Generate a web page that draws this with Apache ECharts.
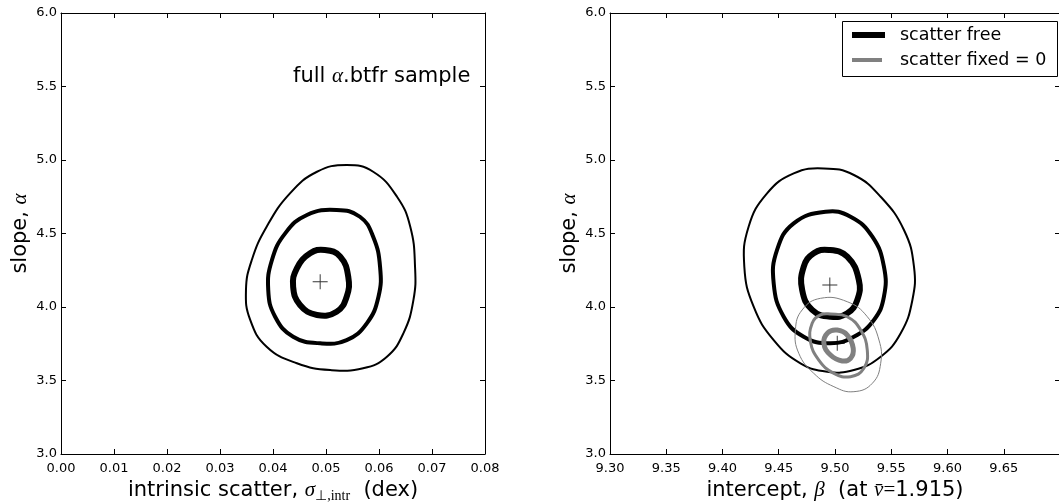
<!DOCTYPE html>
<html><head><meta charset="utf-8">
<script src="https://cdn.jsdelivr.net/npm/echarts@6/dist/echarts.min.js"></script>
<style>html,body{margin:0;padding:0;background:#fff}#c{width:1059px;height:504px}</style>
</head><body><div id="c"></div>
<script>
// ---- Left panel: intrinsic scatter vs slope (scatter free) ----
const sigmaBest = [[0.0489, 4.172]];
const sigmaInner = [[0.0498,4.388],[0.0527,4.342],[0.0542,4.206],[0.0539,4.070],[0.0520,3.968],[0.0483,3.946],[0.0451,4.014],[0.0438,4.138],[0.0445,4.263],[0.0470,4.365]];
const sigmaMiddle = [[0.0520,4.660],[0.0564,4.614],[0.0589,4.478],[0.0602,4.274],[0.0599,4.070],[0.0577,3.889],[0.0539,3.775],[0.0489,3.753],[0.0438,3.798],[0.0404,3.934],[0.0391,4.116],[0.0398,4.320],[0.0423,4.501],[0.0464,4.626]];
const sigmaOuter = [[0.0539,4.966],[0.0589,4.920],[0.0634,4.750],[0.0659,4.546],[0.0668,4.274],[0.0665,4.048],[0.0646,3.821],[0.0615,3.662],[0.0570,3.583],[0.0508,3.571],[0.0445,3.617],[0.0388,3.730],[0.0357,3.912],[0.0349,4.116],[0.0360,4.320],[0.0388,4.546],[0.0432,4.773],[0.0483,4.920]];

// ---- Right panel: intercept vs slope ----
const freeBest = [[9.4954, 4.150]];
const freeInner = [[9.4945,4.388],[9.5109,4.342],[9.5212,4.184],[9.5198,4.048],[9.5109,3.957],[9.4960,3.934],[9.4797,3.980],[9.4708,4.116],[9.4722,4.274],[9.4811,4.365]];
const freeMiddle = [[9.4916,4.648],[9.5138,4.614],[9.5332,4.478],[9.5435,4.274],[9.5435,4.070],[9.5346,3.912],[9.5168,3.798],[9.4960,3.753],[9.4722,3.798],[9.4544,3.934],[9.4455,4.161],[9.4485,4.388],[9.4633,4.569]];
const freeOuter = [[9.4901,4.943],[9.5168,4.898],[9.5406,4.750],[9.5613,4.524],[9.5702,4.274],[9.5688,4.048],[9.5584,3.821],[9.5406,3.662],[9.5168,3.571],[9.4931,3.560],[9.4693,3.617],[9.4455,3.775],[9.4277,4.002],[9.4194,4.274],[9.4232,4.546],[9.4396,4.773],[9.4633,4.909]];
const fixedBest = [[9.5020, 3.753]];
const fixedInner = [[9.5020,3.843],[9.5109,3.809],[9.5162,3.719],[9.5138,3.651],[9.5064,3.633],[9.4960,3.673],[9.4901,3.753],[9.4936,3.825]];
const fixedMiddle = [[9.4960,3.952],[9.5109,3.934],[9.5228,3.843],[9.5287,3.707],[9.5257,3.583],[9.5138,3.526],[9.4990,3.549],[9.4856,3.639],[9.4782,3.764],[9.4797,3.889],[9.4871,3.946]];
const fixedOuter = [[9.4871,4.059],[9.5109,4.036],[9.5287,3.934],[9.5391,3.775],[9.5406,3.617],[9.5332,3.481],[9.5168,3.424],[9.4990,3.458],[9.4811,3.549],[9.4678,3.685],[9.4648,3.843],[9.4708,3.980]];

const legendNames = ['scatter free', 'scatter fixed = 0'];
const panelText = ['full ', 'α', '.btfr sample'];

const SANS = 'DejaVu Sans';
const SERIF = 'Liberation Serif';
const BLACK = '#000000', GRAY = '#808080';

function axisBase(extra) {
  return Object.assign({
    type: 'value',
    axisLine: { show: true, onZero: false, lineStyle: { color: '#000', width: 1 } },
    axisTick: { show: true, inside: true, length: 5, lineStyle: { color: '#000', width: 1 } },
    splitLine: { show: false },
    axisLabel: { color: '#000', fontSize: 13, fontFamily: SANS }
  }, extra);
}
const FS = 21;
const nameRich = {
  t: { fontFamily: SANS, fontSize: FS, fontWeight: 'normal', color: '#000' },
  m: { fontFamily: SERIF, fontStyle: 'italic', fontWeight: 'normal', fontSize: FS, color: '#000' },
  r: { fontFamily: SERIF, fontWeight: 'normal', fontSize: FS, color: '#000' },
  s: { fontFamily: SERIF, fontWeight: 'normal', fontSize: 14, color: '#000', padding: [11, 0, 0, 0] }
};

// closed smooth contour drawn through the axes' own scales
function contour(name, pts, xi, yi, color, width, z) {
  return { name, type: 'custom', xAxisIndex: xi, yAxisIndex: yi, data: pts,
    encode: { x: 0, y: 1 }, z: z || 2, silent: true, itemStyle: { color },
    renderItem: (params, api) => {
      if (params.dataIndex !== 0) return;
      const points = pts.map(p => api.coord(p));
      return { type: 'polygon', shape: { points, smooth: 0.45 },
        style: { fill: 'none', stroke: color, lineWidth: width } };
    } };
}
const plusPath = 'path://M0,6.55H14V7.45H0Z M6.55,0H7.45V14H6.55Z';
function best(data, xi, yi) {
  return { type: 'scatter', xAxisIndex: xi, yAxisIndex: yi, data, symbol: plusPath,
    symbolSize: 15, z: 10, itemStyle: { color: '#000' }, silent: true };
}

const option = {
  animation: false,
  backgroundColor: '#fff',
  grid: [
    { left: 61, top: 13, width: 424, height: 441, containLabel: false, outerBoundsMode: 'none' },
    { left: 610, top: 13, width: 450, height: 441, containLabel: false, outerBoundsMode: 'none' }
  ],
  xAxis: [
    axisBase({ gridIndex: 0, min: 0, max: 0.08, interval: 0.01, position: 'bottom',
      axisLabel: { color: '#000', fontSize: 13, fontFamily: SANS, margin: 8, formatter: v => v.toFixed(2) },
      name: '{t|intrinsic scatter, }{m|σ}{s|⊥,intr}{t|  (dex)}', nameLocation: 'middle', nameGap: 19,
      nameTextStyle: { rich: nameRich } }),
    axisBase({ gridIndex: 0, min: 0, max: 0.08, interval: 0.01, position: 'top', axisLabel: { show: false } }),
    axisBase({ gridIndex: 1, min: 9.30, max: 9.70, interval: 0.05, position: 'bottom',
      axisLabel: { color: '#000', fontSize: 13, fontFamily: SANS, margin: 8, showMaxLabel: false, formatter: v => v.toFixed(2) },
      name: '{t|intercept, }{m|β}{t|  (at }{m|v̄}{r|=}{t|1.915)}', nameLocation: 'middle', nameGap: 19,
      nameTextStyle: { rich: nameRich } }),
    axisBase({ gridIndex: 1, min: 9.30, max: 9.70, interval: 0.05, position: 'top', axisLabel: { show: false } })
  ],
  yAxis: [
    axisBase({ gridIndex: 0, min: 3, max: 6, interval: 0.5, position: 'left',
      axisLabel: { color: '#000', fontSize: 13, fontFamily: SANS, margin: 4, formatter: v => v.toFixed(1) },
      name: '{t|slope, }{m|α}', nameLocation: 'middle', nameGap: 30, nameRotate: 90,
      nameTextStyle: { rich: nameRich } }),
    axisBase({ gridIndex: 0, min: 3, max: 6, interval: 0.5, position: 'right', axisLabel: { show: false } }),
    axisBase({ gridIndex: 1, min: 3, max: 6, interval: 0.5, position: 'left',
      axisLabel: { color: '#000', fontSize: 13, fontFamily: SANS, margin: 4, formatter: v => v.toFixed(1) },
      name: '{t|slope, }{m|α}', nameLocation: 'middle', nameGap: 30, nameRotate: 90,
      nameTextStyle: { rich: nameRich } }),
    axisBase({ gridIndex: 1, min: 3, max: 6, interval: 0.5, position: 'right', axisLabel: { show: false } })
  ],
  title: {
    text: '{t|' + panelText[0] + '}{m|' + panelText[1] + '}{t|' + panelText[2] + '}',
    left: 293, top: 66, padding: 0,
    textStyle: { fontWeight: 'normal', rich: nameRich }
  },
  legend: [
    { data: [{ name: legendNames[0], icon: 'rect' }], left: 852, top: 26, padding: 0,
      itemWidth: 33, itemHeight: 6, selectedMode: false,
      textStyle: { fontFamily: SANS, fontSize: 17.5, color: '#000', padding: [0, 0, 0, 10] } },
    { data: [{ name: legendNames[1], icon: 'rect' }], left: 852, top: 51, padding: 0,
      itemWidth: 30, itemHeight: 4, selectedMode: false,
      textStyle: { fontFamily: SANS, fontSize: 17.5, color: '#000', padding: [0, 0, 0, 13] } }
  ],
  graphic: [
    { type: 'rect', left: 842, top: 21, z: 0, silent: true,
      shape: { width: 215, height: 55 }, style: { fill: '#fff', stroke: '#000', lineWidth: 1 } }
  ],
  series: [
    contour('sigmaOuter', sigmaOuter, 0, 0, BLACK, 2),
    contour('sigmaMiddle', sigmaMiddle, 0, 0, BLACK, 4),
    contour('sigmaInner', sigmaInner, 0, 0, BLACK, 6),
    best(sigmaBest, 0, 0),
    contour(legendNames[0], freeOuter, 2, 2, BLACK, 2),
    contour(legendNames[0], freeMiddle, 2, 2, BLACK, 4),
    contour(legendNames[0], freeInner, 2, 2, BLACK, 6),
    contour(legendNames[1], fixedOuter, 2, 2, GRAY, 1, 3),
    contour(legendNames[1], fixedMiddle, 2, 2, GRAY, 3, 3),
    contour(legendNames[1], fixedInner, 2, 2, GRAY, 5, 3),
    best(freeBest, 2, 2),
    best(fixedBest, 2, 2)
  ]
};
const chart = echarts.init(document.getElementById('c'), null, { renderer: 'canvas' });
chart.setOption(option);
</script>
</body></html>
